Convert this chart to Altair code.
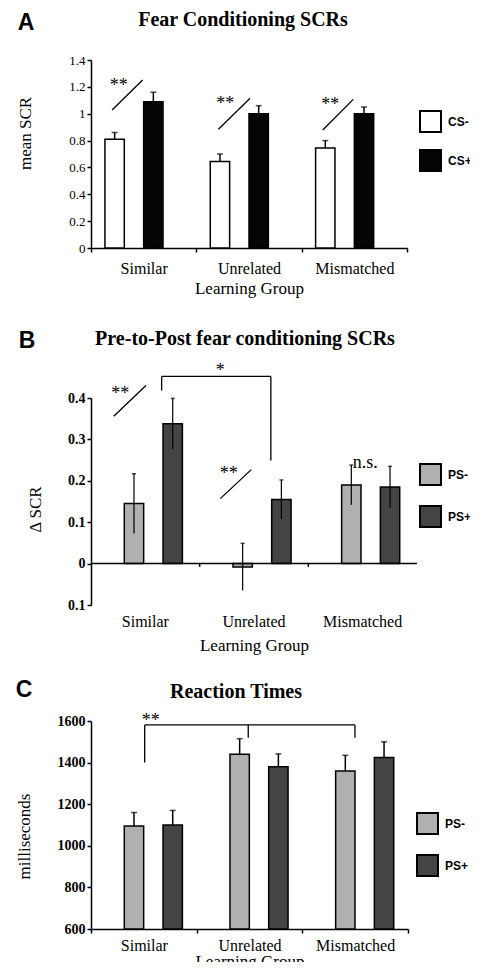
import altair as alt
import pandas as pd

groups = ["Similar", "Unrelated", "Mismatched"]

# ---------- Panel A ----------
a_series = ["CS-", "CS+"]
a_colors = ["#ffffff", "#050505"]
a_minus = [0.81, 0.645, 0.745]
a_minus_err = [0.05, 0.055, 0.055]
a_plus = [1.09, 1.0, 1.0]
a_plus_err = [0.07, 0.06, 0.05]
a_yticks = [0, 0.2, 0.4, 0.6, 0.8, 1.0, 1.2, 1.4]
a_seg_x = [0.20, 1.21, 2.20]
a_seg_y = [1.028, 0.884, 0.879]
a_seg_x2 = [0.49, 1.51, 2.49]
a_seg_y2 = [1.251, 1.115, 1.107]
a_txt = ["**", "**", "**"]
a_txt_x = [0.263, 1.275, 2.272]
a_txt_y = [1.238, 1.10, 1.095]

# ---------- Panel B ----------
b_series = ["PS-", "PS+"]
b_colors = ["#b0b0b0", "#444444"]
b_minus = [0.145, -0.008, 0.19]
b_minus_err = [0.072, 0.057, 0.048]
b_plus = [0.338, 0.155, 0.185]
b_plus_err = [0.061, 0.047, 0.05]
b_yticks = [-0.1, 0, 0.1, 0.2, 0.3, 0.4]
b_seg_x = [0.209, 1.19, 0.65, 0.65, 1.655]
b_seg_y = [0.356, 0.157, 0.418, 0.452, 0.452]
b_seg_x2 = [0.506, 1.475, 0.65, 1.655, 1.655]
b_seg_y2 = [0.430, 0.227, 0.452, 0.452, 0.249]
b_txt = ["**", "**", "*", "n.s."]
b_txt_x = [0.27, 1.267, 1.19, 2.524]
b_txt_y = [0.42, 0.225, 0.474, 0.253]
b_zero_ticks = [1, 2]

# ---------- Panel C ----------
c_series = ["PS-", "PS+"]
c_colors = ["#b0b0b0", "#444444"]
c_minus = [1095, 1440, 1360]
c_minus_err = [65, 75, 75]
c_plus = [1100, 1380, 1425]
c_plus_err = [70, 62, 75]
c_yticks = [600, 800, 1000, 1200, 1400, 1600]
c_seg_x = [0.508, 0.508, 2.498, 1.488]
c_seg_y = [1400, 1581, 1581, 1581]
c_seg_x2 = [0.508, 2.498, 2.498, 1.488]
c_seg_y2 = [1581, 1581, 1519, 1519]
c_txt = ["**"]
c_txt_x = [0.565]
c_txt_y = [1620]

SERIF = "Liberation Serif"
SANS = "Liberation Sans"


def bar_frame(series, minus, minus_err, plus, plus_err, both):
    rows = []
    for i, g in enumerate(groups):
        for s, v, e in ((series[0], minus[i], minus_err[i]), (series[1], plus[i], plus_err[i])):
            lo = v - e if both else v
            rows.append({"group": g, "series": s, "value": v, "lo": lo, "hi": v + e})
    return pd.DataFrame(rows)


def panel(letter, title, df, series, colors, ydomain, ybase, w, h,
          off_outer, off_inner, yaxis, xaxis, legend, seg, txt, letter_xy, title_xy, anchor,
          cap=6, err_width=1.5, extra=None):
    xscale = alt.Scale(paddingInner=0, paddingOuter=0)
    xoff = alt.XOffset("series:N", sort=series,
                       scale=alt.Scale(paddingOuter=off_outer, paddingInner=off_inner))
    yscale = alt.Scale(domain=ydomain, nice=False, zero=False)

    def Y(f):
        return alt.Y(f, scale=yscale, axis=yaxis)

    base = alt.Chart(df)
    bars = base.mark_bar(stroke="black", strokeWidth=1.5, opacity=1).encode(
        x=alt.X("group:N", sort=groups, scale=xscale, axis=xaxis), xOffset=xoff,
        y=Y("value:Q"),
        y2=alt.datum(ybase),
        color=alt.Color("series:N", sort=series,
                        scale=alt.Scale(domain=series, range=colors), legend=legend),
    )
    err = base.mark_rule(color="black", strokeWidth=err_width).encode(
        x=alt.X("group:N", sort=groups, scale=xscale, axis=xaxis), xOffset=xoff,
        y=Y("lo:Q"), y2="hi:Q")
    caps = base.mark_tick(color="black", thickness=1.5, size=cap).encode(
        x=alt.X("group:N", sort=groups, scale=xscale, axis=xaxis), xOffset=xoff,
        y=Y("hi:Q"))
    inner = alt.layer(bars, err, caps)

    xq = alt.Scale(domain=[0, 3], nice=False, zero=False)
    sdf = pd.DataFrame({"x": seg[0], "y": seg[1], "x2": seg[2], "y2": seg[3]})
    segs = alt.Chart(sdf).mark_rule(color="black", strokeWidth=1.3).encode(
        x=alt.X("x:Q", scale=xq, axis=None), x2="x2:Q",
        y=Y("y:Q"), y2="y2:Q")
    tdf = pd.DataFrame({"t": txt[0], "x": txt[1], "y": txt[2]})
    texts = alt.Chart(tdf).mark_text(font=SERIF, fontSize=18, color="black",
                                     baseline="middle", dy=4).encode(
        x=alt.X("x:Q", scale=xq, axis=None), y=Y("y:Q"), text="t:N")
    ann = [segs, texts]
    if extra is not None:
        ann += extra(xq, Y)
    ldf = pd.DataFrame({"t": [letter]})
    let = alt.Chart(ldf).mark_text(font=SANS, fontWeight="bold", fontSize=23, color="black",
                                   baseline="middle", align="center").encode(
        text="t:N", x=alt.value(letter_xy[0]), y=alt.value(letter_xy[1]))
    # invisible layout anchor so every panel has the same left bound
    anc = alt.Chart(ldf).mark_rule(color="white", strokeWidth=1).encode(
        x=alt.value(anchor), y=alt.value(100), y2=alt.value(101))
    tidf = pd.DataFrame({"t": [title]})
    tit = alt.Chart(tidf).mark_text(font=SERIF, fontWeight="bold", fontSize=20, color="black",
                                    baseline="middle", align="center").encode(
        text="t:N", x=alt.value(title_xy[0]), y=alt.value(title_xy[1]))
    outer = alt.layer(anc, inner, alt.layer(*ann), let, tit).resolve_scale(x="independent")
    return outer.properties(width=w, height=h)


def yax(values, title, tx, ty, bold, size, label_expr=None):
    kw = dict(values=values, labelFont=SERIF, labelFontSize=size,
              labelFontWeight="bold" if bold else "normal", labelColor="black",
              domainColor="black", domainWidth=1.5, tickColor="black", tickSize=4, tickWidth=1.5,
              grid=False, title=title, titleFont=SERIF, titleFontSize=17, titleFontWeight="normal",
              titleColor="black", titleX=tx, titleY=ty, titleBaseline="middle", titleAngle=270,
              labelPadding=2, labelOverlap=False)
    if label_expr:
        kw["labelExpr"] = label_expr
    else:
        kw["format"] = ".2~f"
    return alt.Axis(**kw)


def xax(domain, label_pad, title_pad):
    kw = dict(title="Learning Group", labelAngle=0, labelFont=SERIF, labelFontSize=16,
              labelColor="black", labelPadding=label_pad, titleFont=SERIF, titleFontSize=17,
              titleFontWeight="normal", titleColor="black", titlePadding=title_pad, grid=False)
    if domain:
        kw.update(domain=True, domainColor="black", domainWidth=1.5, ticks=True, tickColor="black",
                  tickBand="extent", tickSize=4, tickWidth=1.5)
    else:
        kw.update(domain=False, ticks=False)
    return alt.Axis(**kw)


def leg(lx, ly, row_pad):
    return alt.Legend(orient="none", legendX=lx, legendY=ly, title=None, symbolType="square",
                      symbolSize=441, symbolStrokeColor="black", symbolStrokeWidth=2,
                      symbolOpacity=1, labelFont=SANS, labelFontWeight="bold", labelFontSize=12,
                      labelColor="black", labelOffset=6, rowPadding=row_pad, padding=0)


dfa = bar_frame(a_series, a_minus, a_minus_err, a_plus, a_plus_err, False)
A = panel("A", "Fear Conditioning SCRs", dfa, a_series, a_colors, [0, 1.4], 0, 316, 188,
          0.72, 0.0, yax(a_yticks, "mean SCR", -66, 73, False, 13), xax(True, 8, 4), leg(328, 50, 10),
          (a_seg_x, a_seg_y, a_seg_x2, a_seg_y2), (a_txt, a_txt_x, a_txt_y),
          (-65, -37), (152, -40), -86, cap=6)

dfb = bar_frame(b_series, b_minus, b_minus_err, b_plus, b_plus_err, True)


def b_extra(xq, Y):
    zdf = pd.DataFrame({"z": [0]})
    zero = alt.Chart(zdf).mark_rule(color="black", strokeWidth=1.5).encode(
        y=Y("z:Q"), x=alt.value(0), x2=alt.value(326))
    tdf = pd.DataFrame({"x": b_zero_ticks, "z": [0, 0], "z2": [-0.008, -0.008]})
    tk = alt.Chart(tdf).mark_rule(color="black", strokeWidth=1.5).encode(
        x=alt.X("x:Q", scale=xq, axis=None), y=Y("z:Q"), y2="z2:Q")
    return [zero, tk]


B = panel("B", "Pre-to-Post fear conditioning SCRs", dfb, b_series, b_colors, [-0.1, 0.4], 0,
          326, 207, 0.6, 0.05,
          yax(b_yticks, "\u0394 SCR", -56, 111, True, 14, "format(abs(datum.value), '.2~f')"),
          xax(False, 8, 8), leg(328, 65, 13),
          (b_seg_x, b_seg_y, b_seg_x2, b_seg_y2), (b_txt, b_txt_x, b_txt_y),
          (-64, -57), (154, -59), -86, cap=4, err_width=1.2, extra=b_extra)

dfc = bar_frame(c_series, c_minus, c_minus_err, c_plus, c_plus_err, False)
C = panel("C", "Reaction Times", dfc, c_series, c_colors, [600, 1600], 600, 317, 208,
          0.595, 0.08, yax(c_yticks, "milliseconds", -67, 115, True, 14), xax(True, 4, 0),
          leg(325, 91, 13),
          (c_seg_x, c_seg_y, c_seg_x2, c_seg_y2), (c_txt, c_txt_x, c_txt_y),
          (-67, -31), (145, -29), -89, cap=6)

AB = alt.vconcat(A, B, spacing=33).resolve_scale(color="independent").resolve_legend(color="independent")
chart = alt.vconcat(AB, C, spacing=26).resolve_scale(color="independent").resolve_legend(
    color="independent").properties(
    padding={"left": -7, "top": 2, "right": -2, "bottom": -7},
    background="white",
).configure_view(stroke=None)

chart.save("out.html", embed_options={"renderer": "svg", "actions": False})
